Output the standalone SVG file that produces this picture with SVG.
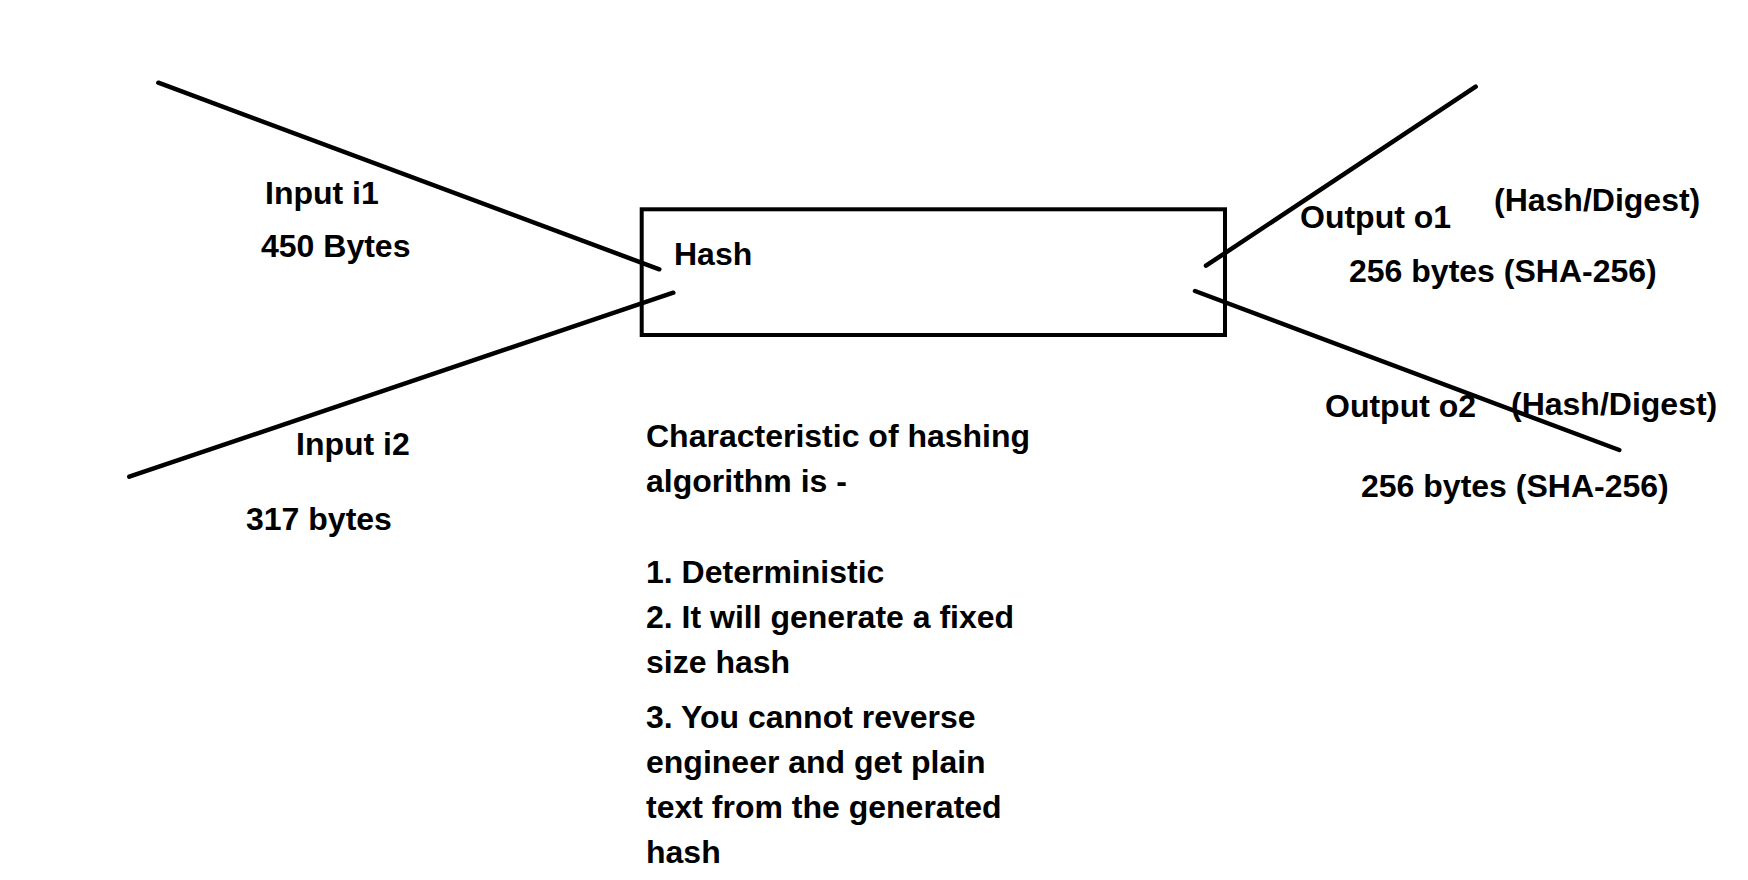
<svg xmlns="http://www.w3.org/2000/svg" width="1748" height="880" viewBox="0 0 1748 880">
  <style>
    .bg { fill: #ffffff; }
    .box { fill: none; stroke: #000000; stroke-width: 4; }
    .conn { stroke: #000000; stroke-width: 4.5; stroke-linecap: round; fill: none; }
    .t { font-family: "Liberation Sans", Arial, sans-serif; font-weight: bold; font-size: 32px; fill: #000000; }
  </style>
  <rect class="bg" x="0" y="0" width="1748" height="880"/>

  <g id="connectors">
    <line class="conn" x1="158.3" y1="82.7" x2="659.3" y2="269.3"/>
    <line class="conn" x1="129.3" y1="476.7" x2="673.3" y2="292.7"/>
    <line class="conn" x1="1206" y1="265.7" x2="1475.7" y2="86.7"/>
    <line class="conn" x1="1195" y1="291" x2="1619.3" y2="450"/>
  </g>

  <g id="hash">
    <rect class="box" x="641.7" y="209.3" width="583.3" height="125.7"/>
    <text class="t" x="674" y="265">Hash</text>
  </g>

  <g id="input-i1">
    <text class="t" x="265" y="204">Input i1</text>
    <text class="t" x="261" y="257">450 Bytes</text>
  </g>

  <g id="input-i2">
    <text class="t" x="296" y="455">Input i2</text>
    <text class="t" x="246" y="530">317 bytes</text>
  </g>

  <g id="output-o1">
    <text class="t" x="1300" y="228">Output o1</text>
    <text class="t" x="1494" y="211">(Hash/Digest)</text>
    <text class="t" x="1349" y="282">256 bytes (SHA-256)</text>
  </g>

  <g id="output-o2">
    <text class="t" x="1325" y="417">Output o2</text>
    <text class="t" x="1511" y="415">(Hash/Digest)</text>
    <text class="t" x="1361" y="497">256 bytes (SHA-256)</text>
  </g>

  <g id="characteristics">
    <text class="t" x="646" y="447">Characteristic of hashing</text>
    <text class="t" x="646" y="492">algorithm is -</text>
    <text class="t" x="646" y="583">1. Deterministic</text>
    <text class="t" x="646" y="628">2. It will generate a fixed</text>
    <text class="t" x="646" y="673">size hash</text>
    <text class="t" x="646" y="728">3. You cannot reverse</text>
    <text class="t" x="646" y="773">engineer and get plain</text>
    <text class="t" x="646" y="818">text from the generated</text>
    <text class="t" x="646" y="863">hash</text>
  </g>
</svg>
